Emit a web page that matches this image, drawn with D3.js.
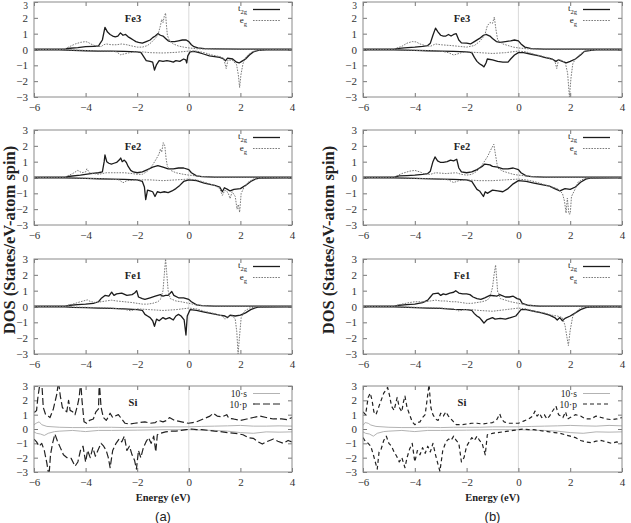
<!DOCTYPE html>
<html><head><meta charset="utf-8">
<script src="https://cdn.jsdelivr.net/npm/d3@7"></script>
<style>body{margin:0;background:#fff}svg{display:block}</style>
</head><body><svg id="c" width="631" height="523"></svg>
<script>
// ---------- data ----------
const xTicks=[-6,-4,-2,0,2,4];
const yTicks=[-3,-2,-1,0,1,2,3];
const xDomain=[-6,4];
const yDomain=[-3,3];
const columnLabels=["(a)","(b)"];
const xAxisTitle="Energy (eV)";
const yAxisTitle="DOS (States/eV-atom spin)";

// Fe3 (a)
const fe3a_t2gUp=[[-6,0.02],[-5,0.02],[-4.8,0.04],[-4.6,0.08],[-4.3,0.12],[-4.0,0.18],[-3.7,0.2],[-3.5,0.22],[-3.45,0.35],[-3.35,0.6],[-3.25,1.4],[-3.15,1.1],[-3.05,0.95],[-2.95,0.85],[-2.85,0.8],[-2.75,0.85],[-2.65,1.05],[-2.55,0.9],[-2.45,0.95],[-2.35,0.8],[-2.25,0.7],[-2.15,0.6],[-2.05,0.5],[-1.95,0.45],[-1.8,0.4],[-1.65,0.5],[-1.5,0.6],[-1.4,0.75],[-1.3,0.85],[-1.2,1.0],[-1.1,0.9],[-1.0,0.85],[-0.9,0.7],[-0.8,0.55],[-0.7,0.5],[-0.55,0.5],[-0.4,0.55],[-0.25,0.6],[-0.1,0.6],[0,0.5],[0.1,0.3],[0.2,0.18],[0.35,0.1],[0.6,0.05],[1,0.04],[2,0.03],[3,0.03],[4,0.02]];
const fe3a_egUp=[[-6,0.01],[-5,0.01],[-4.8,0.05],[-4.6,0.2],[-4.4,0.35],[-4.2,0.45],[-4.0,0.5],[-3.9,0.45],[-3.8,0.35],[-3.6,0.22],[-3.4,0.18],[-3.3,0.3],[-3.2,0.35],[-3.0,0.3],[-2.8,0.3],[-2.6,0.35],[-2.4,0.3],[-2.2,0.22],[-2.0,0.15],[-1.8,0.15],[-1.6,0.25],[-1.45,0.45],[-1.3,0.7],[-1.2,0.9],[-1.1,1.5],[-1.05,1.9],[-1.0,1.7],[-0.95,2.1],[-0.9,2.3],[-0.87,1.6],[-0.83,0.9],[-0.75,0.55],[-0.6,0.35],[-0.4,0.22],[-0.2,0.15],[0,0.1],[0.3,0.05],[0.6,0.03],[4,0.01]];
const fe3a_t2gDn=[[-6,-0.02],[-5,-0.02],[-4.5,-0.05],[-4,-0.08],[-3.5,-0.1],[-3,-0.1],[-2.5,-0.12],[-2.0,-0.15],[-1.85,-0.2],[-1.75,-0.45],[-1.65,-0.7],[-1.5,-0.75],[-1.4,-0.8],[-1.33,-1.3],[-1.25,-0.95],[-1.15,-0.7],[-1.0,-0.75],[-0.85,-0.7],[-0.7,-0.75],[-0.6,-0.8],[-0.5,-0.7],[-0.35,-0.75],[-0.2,-0.6],[-0.12,-0.65],[-0.08,-0.85],[-0.04,-0.4],[0.05,-0.15],[0.2,-0.12],[0.4,-0.2],[0.6,-0.3],[0.8,-0.4],[1.0,-0.45],[1.2,-0.5],[1.35,-0.6],[1.42,-0.72],[1.5,-0.55],[1.7,-0.6],[1.85,-0.8],[1.95,-0.85],[2.05,-0.75],[2.2,-0.6],[2.35,-0.35],[2.5,-0.15],[2.7,-0.06],[3,-0.03],[4,-0.02]];
const fe3a_egDn=[[-6,-0.01],[-4.8,-0.02],[-4.2,-0.05],[-3.5,-0.08],[-3.0,-0.1],[-2.8,-0.15],[-2.65,-0.33],[-2.5,-0.28],[-2.35,-0.22],[-2.1,-0.15],[-1.8,-0.15],[-1.5,-0.2],[-1.0,-0.22],[-0.5,-0.18],[0,-0.1],[0.3,-0.1],[0.6,-0.2],[0.9,-0.35],[1.2,-0.45],[1.35,-0.55],[1.45,-1.2],[1.52,-0.65],[1.7,-0.7],[1.85,-0.95],[1.92,-1.6],[1.97,-2.4],[2.02,-1.6],[2.1,-0.9],[2.2,-0.5],[2.35,-0.25],[2.5,-0.12],[2.7,-0.05],[3,-0.02],[4,-0.01]];

// Fe3 (b)
const fe3b_t2gUp=[[-6,0.02],[-4.8,0.03],[-4.7,0.05],[-4.4,0.1],[-4.0,0.15],[-3.7,0.2],[-3.5,0.25],[-3.4,0.4],[-3.3,0.9],[-3.2,1.35],[-3.1,1.1],[-3.0,0.9],[-2.9,0.85],[-2.8,0.85],[-2.7,0.95],[-2.6,0.85],[-2.5,0.95],[-2.4,1.0],[-2.3,0.6],[-2.2,0.42],[-2.0,0.4],[-1.85,0.35],[-1.7,0.5],[-1.5,0.7],[-1.35,0.9],[-1.25,0.95],[-1.1,0.85],[-1.0,0.7],[-0.85,0.5],[-0.7,0.45],[-0.5,0.5],[-0.3,0.55],[-0.15,0.6],[0,0.55],[0.1,0.35],[0.25,0.15],[0.5,0.05],[1,0.03],[4,0.02]];
const fe3b_egUp=[[-6,0.01],[-4.8,0.03],[-4.5,0.2],[-4.3,0.4],[-4.1,0.5],[-3.95,0.48],[-3.8,0.35],[-3.6,0.25],[-3.4,0.2],[-3.2,0.35],[-3.0,0.3],[-2.6,0.25],[-2.3,0.2],[-2.0,0.15],[-1.7,0.25],[-1.5,0.5],[-1.3,0.9],[-1.2,1.5],[-1.1,1.7],[-1.0,1.65],[-0.93,2.05],[-0.87,1.3],[-0.8,0.6],[-0.6,0.35],[-0.4,0.25],[-0.2,0.15],[0,0.1],[0.3,0.05],[0.6,0.03],[4,0.01]];
const fe3b_t2gDn=[[-6,-0.02],[-4.8,-0.02],[-4,-0.05],[-3.5,-0.08],[-3,-0.1],[-2.5,-0.12],[-2,-0.15],[-1.8,-0.2],[-1.7,-0.5],[-1.6,-0.75],[-1.5,-0.9],[-1.4,-1.0],[-1.33,-1.1],[-1.25,-0.85],[-1.2,-0.6],[-1.0,-0.65],[-0.8,-0.75],[-0.6,-0.8],[-0.4,-0.8],[-0.3,-0.6],[-0.15,-0.35],[0,-0.2],[0.2,-0.2],[0.5,-0.3],[0.8,-0.4],[1.0,-0.5],[1.3,-0.6],[1.45,-0.75],[1.55,-0.65],[1.7,-0.75],[1.85,-0.85],[2.0,-0.75],[2.2,-0.6],[2.4,-0.35],[2.55,-0.12],[2.8,-0.05],[3,-0.03],[4,-0.02]];
const fe3b_egDn=[[-6,-0.01],[-4.8,-0.02],[-4,-0.05],[-3,-0.1],[-2.7,-0.2],[-2.5,-0.35],[-2.35,-0.28],[-2.2,-0.2],[-2,-0.15],[-1.5,-0.2],[-1,-0.25],[-0.5,-0.2],[0,-0.1],[0.3,-0.15],[0.6,-0.3],[1.0,-0.45],[1.3,-0.6],[1.42,-0.8],[1.48,-1.2],[1.55,-0.65],[1.7,-0.7],[1.82,-0.9],[1.9,-1.5],[1.97,-3.0],[2.03,-1.8],[2.1,-0.9],[2.2,-0.6],[2.35,-0.35],[2.5,-0.15],[2.7,-0.05],[3,-0.02],[4,-0.01]];

// Fe2 (a)
const fe2a_t2gUp=[[-6,0.02],[-4.8,0.03],[-4.6,0.08],[-4.2,0.15],[-3.8,0.25],[-3.5,0.3],[-3.35,0.35],[-3.28,1.0],[-3.25,1.42],[-3.18,1.0],[-3.1,0.9],[-3.0,0.85],[-2.9,0.9],[-2.8,0.95],[-2.7,1.1],[-2.64,1.23],[-2.58,1.0],[-2.5,1.1],[-2.42,0.95],[-2.35,0.7],[-2.25,0.45],[-2.15,0.35],[-2.0,0.3],[-1.8,0.35],[-1.6,0.5],[-1.4,0.65],[-1.2,0.75],[-1.0,0.65],[-0.8,0.55],[-0.6,0.55],[-0.4,0.6],[-0.2,0.6],[0,0.5],[0.1,0.3],[0.3,0.1],[0.5,0.05],[1,0.03],[4,0.02]];
const fe2a_egUp=[[-6,0.01],[-4.8,0.03],[-4.5,0.25],[-4.3,0.45],[-4.15,0.3],[-4.0,0.35],[-3.95,0.55],[-3.85,0.3],[-3.5,0.2],[-3.2,0.3],[-2.8,0.3],[-2.5,0.3],[-2.2,0.25],[-2.0,0.2],[-1.8,0.2],[-1.6,0.4],[-1.4,0.8],[-1.25,1.2],[-1.15,1.5],[-1.1,1.8],[-1.05,1.6],[-0.99,2.2],[-0.93,2.0],[-0.88,1.2],[-0.83,0.7],[-0.7,0.45],[-0.5,0.3],[-0.2,0.2],[0,0.15],[0.3,0.1],[0.6,0.05],[1,0.02],[4,0.01]];
const fe2a_t2gDn=[[-6,-0.02],[-4.8,-0.02],[-4,-0.05],[-3.5,-0.08],[-3,-0.1],[-2.5,-0.12],[-2,-0.15],[-1.8,-0.25],[-1.72,-0.6],[-1.67,-1.4],[-1.6,-0.8],[-1.5,-0.85],[-1.4,-0.9],[-1.31,-1.2],[-1.22,-0.9],[-1.1,-0.95],[-0.95,-0.9],[-0.8,-0.95],[-0.65,-0.85],[-0.5,-0.7],[-0.35,-0.5],[-0.2,-0.25],[0,-0.15],[0.3,-0.2],[0.6,-0.35],[1.0,-0.5],[1.2,-0.6],[1.3,-0.9],[1.38,-0.65],[1.5,-0.75],[1.6,-0.85],[1.75,-0.75],[2.0,-0.7],[2.2,-0.5],[2.4,-0.25],[2.6,-0.08],[2.8,-0.03],[4,-0.02]];
const fe2a_egDn=[[-6,-0.01],[-4.8,-0.02],[-4,-0.05],[-3,-0.1],[-2.7,-0.15],[-2.55,-0.33],[-2.4,-0.2],[-2,-0.15],[-1.5,-0.15],[-1,-0.2],[-0.5,-0.15],[0,-0.1],[0.3,-0.15],[0.6,-0.3],[1.0,-0.5],[1.2,-0.7],[1.3,-1.13],[1.4,-0.8],[1.52,-0.95],[1.6,-1.33],[1.68,-0.9],[1.8,-1.2],[1.87,-2.0],[1.92,-1.7],[1.97,-2.2],[2.03,-1.0],[2.15,-0.6],[2.3,-0.3],[2.5,-0.1],[2.7,-0.03],[4,-0.01]];

// Fe2 (b)
const fe2b_t2gUp=[[-6,0.02],[-4.8,0.03],[-4.6,0.1],[-4.3,0.12],[-4,0.15],[-3.7,0.2],[-3.5,0.25],[-3.4,0.4],[-3.3,1.0],[-3.22,1.3],[-3.12,1.05],[-3.0,0.95],[-2.9,0.95],[-2.75,1.0],[-2.62,1.1],[-2.5,1.05],[-2.38,1.15],[-2.3,0.6],[-2.2,0.35],[-2.0,0.3],[-1.8,0.35],[-1.6,0.5],[-1.4,0.7],[-1.3,0.85],[-1.1,0.8],[-1.0,0.7],[-0.8,0.65],[-0.6,0.55],[-0.4,0.55],[-0.2,0.6],[0,0.5],[0.1,0.3],[0.3,0.1],[0.5,0.05],[1,0.03],[4,0.02]];
const fe2b_egUp=[[-6,0.01],[-4.8,0.03],[-4.5,0.25],[-4.2,0.4],[-4.0,0.45],[-3.8,0.35],[-3.6,0.2],[-3.4,0.2],[-3.2,0.3],[-2.8,0.25],[-2.4,0.3],[-2.2,0.2],[-2,0.15],[-1.8,0.2],[-1.6,0.4],[-1.4,0.8],[-1.2,1.3],[-1.05,1.8],[-0.95,2.1],[-0.87,1.3],[-0.8,0.6],[-0.6,0.4],[-0.4,0.3],[-0.2,0.2],[0,0.15],[0.3,0.1],[0.6,0.05],[1,0.02],[4,0.01]];
const fe2b_t2gDn=[[-6,-0.02],[-4.8,-0.02],[-4,-0.05],[-3,-0.1],[-2.5,-0.12],[-2,-0.15],[-1.8,-0.25],[-1.7,-0.5],[-1.6,-0.75],[-1.5,-0.85],[-1.35,-1.2],[-1.28,-0.9],[-1.2,-1.0],[-1.0,-0.8],[-0.8,-0.85],[-0.6,-0.9],[-0.4,-0.7],[-0.2,-0.4],[0,-0.2],[0.3,-0.25],[0.6,-0.35],[0.9,-0.45],[1.2,-0.55],[1.4,-0.7],[1.6,-0.85],[1.8,-0.7],[2.0,-0.75],[2.2,-0.6],[2.4,-0.3],[2.6,-0.1],[2.8,-0.03],[4,-0.02]];
const fe2b_egDn=[[-6,-0.01],[-4.8,-0.02],[-4,-0.05],[-3,-0.1],[-2.7,-0.15],[-2.5,-0.32],[-2.3,-0.2],[-2,-0.15],[-1.5,-0.2],[-1,-0.2],[-0.5,-0.15],[0,-0.1],[0.3,-0.15],[0.6,-0.25],[1.0,-0.45],[1.3,-0.6],[1.5,-0.7],[1.7,-1.0],[1.78,-1.5],[1.84,-2.25],[1.89,-1.3],[1.95,-2.3],[2.0,-2.3],[2.05,-1.2],[2.2,-0.7],[2.3,-0.3],[2.5,-0.1],[2.7,-0.03],[4,-0.01]];

// Fe1 (a)
const fe1a_t2gUp=[[-6,0.02],[-4.8,0.03],[-4.6,0.08],[-4.3,0.12],[-4,0.15],[-3.7,0.2],[-3.5,0.3],[-3.4,0.5],[-3.25,0.7],[-3.1,0.65],[-2.99,0.91],[-2.9,0.7],[-2.8,0.8],[-2.6,0.85],[-2.4,0.7],[-2.2,0.75],[-2.1,0.85],[-2.02,1.0],[-1.95,0.6],[-1.8,0.5],[-1.7,0.45],[-1.5,0.55],[-1.3,0.65],[-1.1,0.75],[-1.0,0.65],[-0.9,0.7],[-0.8,0.7],[-0.66,0.95],[-0.58,0.7],[-0.4,0.55],[-0.2,0.55],[0,0.45],[0.1,0.3],[0.3,0.1],[0.5,0.05],[1,0.03],[4,0.02]];
const fe1a_egUp=[[-6,0.01],[-4.8,0.03],[-4.5,0.15],[-4.2,0.3],[-3.93,0.42],[-3.8,0.3],[-3.6,0.25],[-3.4,0.3],[-3.2,0.35],[-3.0,0.4],[-2.8,0.35],[-2.5,0.3],[-2.2,0.25],[-2.0,0.2],[-1.8,0.15],[-1.6,0.15],[-1.4,0.2],[-1.2,0.3],[-1.1,0.45],[-1.0,1.0],[-0.95,2.0],[-0.9,3.0],[-0.86,2.2],[-0.8,1.0],[-0.72,0.5],[-0.5,0.35],[-0.3,0.3],[0,0.2],[0.3,0.1],[0.6,0.05],[1,0.02],[4,0.01]];
const fe1a_t2gDn=[[-6,-0.02],[-4.8,-0.02],[-4.5,-0.05],[-4,-0.07],[-3.5,-0.1],[-3,-0.12],[-2.5,-0.15],[-2,-0.2],[-1.8,-0.25],[-1.7,-0.5],[-1.6,-0.6],[-1.5,-0.7],[-1.4,-0.9],[-1.33,-1.25],[-1.25,-0.8],[-1.15,-0.9],[-1.0,-0.7],[-0.9,-0.8],[-0.75,-0.7],[-0.6,-0.85],[-0.5,-0.6],[-0.4,-0.5],[-0.3,-0.6],[-0.18,-0.85],[-0.11,-1.8],[-0.06,-0.6],[0.05,-0.2],[0.3,-0.25],[0.6,-0.35],[0.9,-0.45],[1.2,-0.55],[1.4,-0.6],[1.5,-0.7],[1.6,-0.55],[1.8,-0.6],[2.0,-0.55],[2.2,-0.4],[2.4,-0.2],[2.6,-0.07],[2.8,-0.03],[4,-0.02]];
const fe1a_egDn=[[-6,-0.01],[-4.8,-0.02],[-4,-0.05],[-3,-0.1],[-2.5,-0.18],[-2.25,-0.27],[-2.0,-0.15],[-1.5,-0.2],[-1.0,-0.25],[-0.5,-0.2],[0,-0.1],[0.3,-0.15],[0.6,-0.3],[1.0,-0.45],[1.3,-0.6],[1.4,-0.8],[1.5,-0.65],[1.7,-0.6],[1.8,-0.8],[1.86,-1.6],[1.91,-3.0],[1.96,-2.0],[2.03,-0.7],[2.15,-0.3],[2.35,-0.1],[2.6,-0.03],[4,-0.01]];

// Fe1 (b)
const fe1b_t2gUp=[[-6,0.02],[-4.8,0.03],[-4.6,0.08],[-4.3,0.12],[-4,0.15],[-3.7,0.25],[-3.5,0.4],[-3.4,0.6],[-3.3,0.8],[-3.1,0.85],[-3.0,0.7],[-2.9,0.8],[-2.8,0.75],[-2.65,0.85],[-2.5,0.9],[-2.42,1.0],[-2.3,0.85],[-2.15,0.8],[-2.0,0.8],[-1.87,0.75],[-1.75,0.6],[-1.6,0.5],[-1.45,0.45],[-1.3,0.55],[-1.1,0.7],[-0.95,0.68],[-0.84,0.65],[-0.72,0.75],[-0.65,0.7],[-0.5,0.6],[-0.35,0.6],[-0.2,0.65],[-0.05,0.5],[0.06,0.45],[0.15,0.2],[0.35,0.08],[0.8,0.03],[4,0.02]];
const fe1b_egUp=[[-6,0.01],[-4.8,0.03],[-4.5,0.15],[-4.2,0.25],[-4.0,0.3],[-3.6,0.3],[-3.4,0.35],[-3.2,0.4],[-3.0,0.35],[-2.8,0.35],[-2.6,0.3],[-2.4,0.3],[-2.2,0.25],[-2.0,0.2],[-1.8,0.2],[-1.6,0.25],[-1.4,0.3],[-1.2,0.4],[-1.1,0.6],[-1.0,1.2],[-0.94,2.0],[-0.88,2.62],[-0.84,1.8],[-0.8,0.9],[-0.76,0.85],[-0.7,0.5],[-0.5,0.4],[-0.3,0.3],[0,0.2],[0.3,0.1],[0.6,0.05],[1,0.02],[4,0.01]];
const fe1b_t2gDn=[[-6,-0.02],[-4.8,-0.02],[-4,-0.07],[-3.5,-0.1],[-3,-0.12],[-2.5,-0.18],[-2,-0.2],[-1.8,-0.25],[-1.7,-0.45],[-1.6,-0.6],[-1.5,-0.7],[-1.4,-0.9],[-1.33,-1.05],[-1.22,-0.85],[-1.0,-0.7],[-0.9,-0.8],[-0.7,-0.75],[-0.5,-0.8],[-0.3,-0.7],[-0.1,-0.6],[0,-0.4],[0.1,-0.2],[0.3,-0.2],[0.6,-0.3],[0.9,-0.4],[1.2,-0.55],[1.4,-0.7],[1.5,-0.85],[1.6,-0.7],[1.7,-0.9],[1.8,-0.75],[2.0,-0.6],[2.2,-0.4],[2.4,-0.2],[2.6,-0.07],[2.8,-0.03],[4,-0.02]];
const fe1b_egDn=[[-6,-0.01],[-4.8,-0.02],[-4,-0.05],[-3,-0.1],[-2.5,-0.15],[-2.3,-0.28],[-2.1,-0.2],[-1.8,-0.2],[-1.5,-0.25],[-1.0,-0.3],[-0.5,-0.2],[0,-0.1],[0.3,-0.15],[0.6,-0.3],[1.0,-0.4],[1.3,-0.55],[1.5,-0.6],[1.7,-0.7],[1.8,-1.2],[1.87,-1.9],[1.93,-2.47],[2.0,-1.5],[2.1,-0.6],[2.25,-0.3],[2.4,-0.1],[2.6,-0.03],[4,-0.01]];

// Si (a)
const sia_pUp=[[-6,1.17],[-5.95,1.2],[-5.9,1.3],[-5.85,2.2],[-5.76,3.3],[-5.7,3.3],[-5.64,1.5],[-5.55,1.0],[-5.45,0.9],[-5.38,0.8],[-5.25,1.4],[-5.12,2.4],[-5.05,3.3],[-4.98,2.3],[-4.9,1.5],[-4.8,1.3],[-4.73,1.2],[-4.66,2.0],[-4.6,1.3],[-4.5,1.2],[-4.41,1.0],[-4.32,1.6],[-4.25,2.2],[-4.19,3.3],[-4.14,2.0],[-4.06,0.5],[-3.96,0.4],[-3.85,0.6],[-3.7,0.7],[-3.6,1.2],[-3.5,1.4],[-3.47,3.3],[-3.4,1.5],[-3.31,0.8],[-3.2,0.6],[-3.1,0.9],[-3.05,1.1],[-2.95,0.8],[-2.86,0.9],[-2.73,1.0],[-2.6,0.7],[-2.47,0.4],[-2.3,0.35],[-2.1,0.4],[-1.9,0.45],[-1.7,0.5],[-1.5,0.4],[-1.3,0.45],[-1.18,0.6],[-1.0,0.5],[-0.85,0.6],[-0.75,0.8],[-0.55,0.6],[-0.28,0.5],[-0.02,0.4],[0.15,0.45],[0.3,0.5],[0.56,0.7],[0.82,0.9],[0.95,1.1],[1.1,0.9],[1.3,0.85],[1.47,1.0],[1.55,0.75],[1.73,0.7],[2.0,0.6],[2.25,0.7],[2.5,0.8],[2.76,0.9],[3.0,0.8],[3.28,0.7],[3.6,0.7],[3.8,0.65],[4,0.8]];
const sia_pDn=[[-6,-0.7],[-5.9,-0.9],[-5.8,-1.2],[-5.7,-1.0],[-5.6,-1.5],[-5.5,-2.4],[-5.42,-3.3],[-5.36,-1.8],[-5.28,-1.0],[-5.19,-0.35],[-5.1,-0.8],[-4.98,-1.3],[-4.86,-1.8],[-4.72,-2.0],[-4.56,-2.05],[-4.41,-2.6],[-4.3,-2.3],[-4.2,-1.5],[-4.1,-1.2],[-4.0,-2.3],[-3.92,-1.5],[-3.82,-2.0],[-3.72,-1.3],[-3.62,-1.9],[-3.5,-1.4],[-3.4,-1.0],[-3.3,-1.2],[-3.2,-1.5],[-3.12,-2.0],[-3.05,-2.7],[-2.95,-1.5],[-2.82,-1.0],[-2.7,-0.7],[-2.6,-0.9],[-2.5,-0.5],[-2.4,-1.5],[-2.3,-1.2],[-2.2,-1.8],[-2.1,-2.2],[-2.03,-2.8],[-1.95,-1.5],[-1.86,-2.0],[-1.76,-1.3],[-1.66,-0.9],[-1.56,-0.6],[-1.46,-1.0],[-1.36,-0.5],[-1.28,-1.6],[-1.22,-0.4],[-1.1,-0.3],[-0.9,-0.2],[-0.7,-0.15],[-0.5,-0.15],[-0.3,-0.1],[-0.1,-0.05],[0.1,0.0],[0.3,-0.05],[0.5,-0.05],[0.8,-0.1],[1.0,-0.15],[1.3,-0.2],[1.5,-0.25],[1.8,-0.3],[2.1,-0.4],[2.3,-0.6],[2.5,-0.65],[2.7,-0.9],[2.85,-1.05],[3.0,-0.9],[3.28,-0.7],[3.45,-0.85],[3.66,-1.0],[3.85,-0.8],[4,-0.9]];
const sia_sUp=[[-6,0.3],[-5.92,0.4],[-5.8,0.5],[-5.7,0.3],[-5.5,0.18],[-5.0,0.12],[-4.5,0.1],[-4.0,0.1],[-3.5,0.12],[-3.0,0.12],[-2.5,0.1],[-2.0,0.12],[-1.5,0.12],[-1.0,0.15],[-0.5,0.15],[0,0.15],[0.5,0.18],[1.0,0.2],[1.5,0.22],[2.0,0.25],[2.5,0.2],[3.0,0.2],[3.5,0.22],[4,0.2]];
const sia_sDn=[[-6,-0.2],[-5.9,-0.3],[-5.75,-0.35],[-5.6,-0.45],[-5.45,-0.3],[-5.2,-0.18],[-5.0,-0.15],[-4.5,-0.1],[-4.2,-0.15],[-4.0,-0.18],[-3.5,-0.1],[-3.0,-0.1],[-2.0,-0.08],[-1.0,-0.05],[0,-0.05],[0.5,-0.08],[1.0,-0.1],[1.5,-0.15],[2.0,-0.25],[2.5,-0.3],[3.0,-0.2],[3.5,-0.22],[4,-0.2]];

// Si (b)
const sib_pUp=[[-6,1.2],[-5.9,1.0],[-5.8,2.2],[-5.72,2.5],[-5.65,2.0],[-5.58,1.2],[-5.5,1.0],[-5.4,1.5],[-5.3,2.0],[-5.2,2.5],[-5.05,2.9],[-4.97,2.3],[-4.9,1.6],[-4.8,1.3],[-4.68,2.2],[-4.6,1.5],[-4.5,1.2],[-4.45,1.8],[-4.38,2.3],[-4.3,1.5],[-4.2,1.0],[-4.1,0.5],[-4.0,0.3],[-3.9,0.45],[-3.8,0.5],[-3.7,0.8],[-3.6,1.0],[-3.45,3.1],[-3.38,1.5],[-3.3,1.0],[-3.2,0.7],[-3.1,0.6],[-3.0,1.1],[-2.9,0.9],[-2.8,1.2],[-2.7,0.9],[-2.6,0.7],[-2.5,0.5],[-2.4,0.3],[-2.2,0.3],[-2.0,0.35],[-1.8,0.4],[-1.6,0.4],[-1.4,0.35],[-1.2,0.4],[-1.0,0.45],[-0.85,0.6],[-0.72,1.05],[-0.65,0.7],[-0.55,0.5],[-0.4,0.4],[-0.2,0.4],[0,0.4],[0.2,0.55],[0.4,0.7],[0.55,0.9],[0.64,1.25],[0.72,0.9],[0.82,1.1],[0.9,0.8],[1.0,1.0],[1.1,0.7],[1.2,0.9],[1.3,1.2],[1.45,1.6],[1.55,1.0],[1.65,0.9],[1.72,0.8],[1.82,1.2],[1.9,0.7],[2.0,0.8],[2.2,1.0],[2.4,0.9],[2.6,0.7],[2.8,0.7],[3.0,0.9],[3.2,0.8],[3.4,0.7],[3.6,0.65],[3.8,0.7],[4.0,0.8]];
const sib_pDn=[[-6,-0.6],[-5.9,-0.9],[-5.8,-1.0],[-5.7,-1.2],[-5.6,-1.8],[-5.45,-2.8],[-5.38,-1.6],[-5.3,-1.4],[-5.2,-0.8],[-5.1,-0.5],[-5.0,-1.0],[-4.9,-1.2],[-4.8,-1.6],[-4.7,-1.9],[-4.6,-2.3],[-4.5,-2.0],[-4.38,-2.7],[-4.3,-2.0],[-4.2,-1.4],[-4.1,-1.0],[-4.0,-2.3],[-3.9,-1.5],[-3.8,-1.8],[-3.7,-1.3],[-3.6,-1.7],[-3.5,-1.2],[-3.4,-1.6],[-3.3,-1.0],[-3.2,-1.8],[-3.1,-2.5],[-3.03,-2.95],[-2.92,-1.5],[-2.8,-0.9],[-2.7,-0.7],[-2.6,-0.8],[-2.5,-0.5],[-2.4,-0.8],[-2.3,-1.0],[-2.2,-2.3],[-2.1,-2.0],[-2.0,-1.2],[-1.9,-0.9],[-1.8,-0.6],[-1.7,-0.8],[-1.6,-0.5],[-1.5,-0.8],[-1.4,-1.0],[-1.28,-1.8],[-1.2,-0.4],[-1.0,-0.3],[-0.8,-0.25],[-0.6,-0.2],[-0.4,-0.15],[-0.2,-0.1],[0,-0.05],[0.2,0.0],[0.4,-0.05],[0.6,-0.05],[0.8,-0.1],[1.0,-0.15],[1.2,-0.2],[1.4,-0.25],[1.6,-0.3],[1.8,-0.4],[2.0,-0.5],[2.2,-0.6],[2.4,-0.8],[2.6,-0.9],[2.8,-0.95],[3.0,-0.85],[3.2,-0.8],[3.4,-0.9],[3.6,-1.0],[3.8,-0.9],[4.0,-1.0]];
const sib_sUp=[[-6,0.25],[-5.92,0.45],[-5.8,0.4],[-5.7,0.28],[-5.5,0.18],[-5.0,0.12],[-4.5,0.1],[-4.0,0.1],[-3.5,0.12],[-3.0,0.1],[-2.5,0.12],[-2.0,0.12],[-1.5,0.12],[-1.0,0.15],[-0.5,0.15],[0,0.15],[0.5,0.18],[1.0,0.2],[1.5,0.22],[2.0,0.25],[2.5,0.22],[3.0,0.2],[3.5,0.25],[4,0.22]];
const sib_sDn=[[-6,-0.2],[-5.9,-0.3],[-5.75,-0.35],[-5.6,-0.5],[-5.45,-0.3],[-5.2,-0.18],[-5.0,-0.15],[-4.5,-0.1],[-4.2,-0.15],[-4.0,-0.18],[-3.5,-0.1],[-3.0,-0.1],[-2.0,-0.08],[-1.0,-0.05],[0,-0.05],[0.5,-0.08],[1.0,-0.1],[1.5,-0.15],[2.0,-0.25],[2.5,-0.3],[3.0,-0.2],[3.5,-0.22],[4,-0.2]];

// ---------- layout & style ----------
const colX=[[34,292],[363,622]];
const rowY=[[2,97],[130,225],[259,354],[386,472]];
const styles={
  t2g:{stroke:"#1c1c1c",width:1.3,dash:null},
  eg:{stroke:"#7a7a7a",width:1,dash:"1.6,1.2"},
  s:{stroke:"#b3b3b3",width:1,dash:null},
  pA:{stroke:"#222",width:1.2,dash:"7,3"},
  pB:{stroke:"#222",width:1.2,dash:"4,3"}
};
const panels=[
 {col:0,row:0,name:"Fe3",type:"fe",curves:[[fe3a_t2gUp,"t2g"],[fe3a_t2gDn,"t2g"],[fe3a_egUp,"eg"],[fe3a_egDn,"eg"]]},
 {col:1,row:0,name:"Fe3",type:"fe",curves:[[fe3b_t2gUp,"t2g"],[fe3b_t2gDn,"t2g"],[fe3b_egUp,"eg"],[fe3b_egDn,"eg"]]},
 {col:0,row:1,name:"Fe2",type:"fe",curves:[[fe2a_t2gUp,"t2g"],[fe2a_t2gDn,"t2g"],[fe2a_egUp,"eg"],[fe2a_egDn,"eg"]]},
 {col:1,row:1,name:"Fe2",type:"fe",curves:[[fe2b_t2gUp,"t2g"],[fe2b_t2gDn,"t2g"],[fe2b_egUp,"eg"],[fe2b_egDn,"eg"]]},
 {col:0,row:2,name:"Fe1",type:"fe",curves:[[fe1a_t2gUp,"t2g"],[fe1a_t2gDn,"t2g"],[fe1a_egUp,"eg"],[fe1a_egDn,"eg"]]},
 {col:1,row:2,name:"Fe1",type:"fe",curves:[[fe1b_t2gUp,"t2g"],[fe1b_t2gDn,"t2g"],[fe1b_egUp,"eg"],[fe1b_egDn,"eg"]]},
 {col:0,row:3,name:"Si",type:"si",pStyle:"pA",curves:[[sia_sUp,"s"],[sia_sDn,"s"],[sia_pUp,"pA"],[sia_pDn,"pA"]]},
 {col:1,row:3,name:"Si",type:"si",pStyle:"pB",curves:[[sib_sUp,"s"],[sib_sDn,"s"],[sib_pUp,"pB"],[sib_pDn,"pB"]]}
];

const svg=d3.select("#c");
const serif="'Liberation Serif','Times New Roman',serif";

panels.forEach((p,i)=>{
  const [x0,x1]=colX[p.col], [y0,y1]=rowY[p.row];
  const x=d3.scaleLinear().domain(xDomain).range([x0,x1]);
  const y=d3.scaleLinear().domain(yDomain).range([y1,y0]);
  const g=svg.append("g");
  const cid="clip"+i;
  svg.append("defs").append("clipPath").attr("id",cid).append("rect")
    .attr("x",x0).attr("y",y0).attr("width",x1-x0).attr("height",y1-y0);
  g.append("line").attr("x1",x(0)).attr("x2",x(0)).attr("y1",y0).attr("y2",y1)
    .attr("stroke","#cfcfcf").attr("stroke-width",0.8);
  const fs="11px";
  const ax=(gen,tr,labels)=>{
    const a=g.append("g").attr("transform",tr).call(gen);
    a.select(".domain").remove();
    a.selectAll(".tick line").attr("stroke","#777");
    a.selectAll("text").attr("font-family",serif).attr("font-size",fs).attr("fill","#333");
    if(!labels) a.selectAll("text").remove();
    return a;
  };
  ax(d3.axisBottom(x).tickValues(xTicks).tickSizeInner(-4).tickSizeOuter(0).tickPadding(6).tickFormat(d3.format("d")),`translate(0,${y1})`,true);
  ax(d3.axisTop(x).tickValues(xTicks).tickSizeInner(-4).tickSizeOuter(0),`translate(0,${y0})`,false);
  const la=ax(d3.axisLeft(y).tickValues(yTicks).tickSizeInner(-4).tickSizeOuter(0).tickPadding(6).tickFormat(d3.format("d")),`translate(${x0},0)`,true);
  if(p.row===0){
    // top label sits at the page edge: shrink and nudge it so it stays visible
    la.selectAll(".tick").filter(d=>d===yDomain[1]).select("text")
      .attr("font-size","9.5px").attr("dy","6.6px");
  }
  ax(d3.axisRight(y).tickValues(yTicks).tickSizeInner(-4).tickSizeOuter(0),`translate(${x1},0)`,false);
  const line=d3.line().x(d=>x(d[0])).y(d=>y(d[1]));
  const cg=g.append("g").attr("clip-path",`url(#${cid})`);
  p.curves.forEach(([data,k])=>{
    const s=styles[k];
    cg.append("path").attr("d",line(data)).attr("fill","none")
      .attr("stroke",s.stroke).attr("stroke-width",s.width)
      .attr("stroke-dasharray",s.dash).attr("stroke-linejoin","round");
  });
  g.append("rect").attr("x",x0).attr("y",y0).attr("width",x1-x0).attr("height",y1-y0)
    .attr("fill","none").attr("stroke","#8a8a8a").attr("stroke-width",1);
  g.append("text").attr("x",x0+99).attr("y",y0+20).attr("text-anchor","middle")
    .attr("font-family",serif).attr("font-weight","bold").attr("font-size","10.5px").attr("fill","#222").text(p.name);
  // legend
  const lx1=x1-12, lx0=x1-39, tx=x1-45;
  const entries=p.type==="fe"
    ? [{main:"t",sub:"2g",k:"t2g",ly:7.5,ty:9,fs:"9px"},{main:"e",sub:"g",k:"eg",ly:18.5,ty:21,fs:"9px"}]
    : [{main:"10·s",sub:null,k:"s",ly:7.5,ty:11,fs:"9.5px"},{main:"10·p",sub:null,k:p.pStyle,ly:18,ty:21.8,fs:"9.5px"}];
  entries.forEach(e=>{
    const s=styles[e.k];
    g.append("line").attr("x1",lx0).attr("x2",lx1).attr("y1",y0+e.ly).attr("y2",y0+e.ly)
      .attr("stroke",s.stroke).attr("stroke-width",s.width).attr("stroke-dasharray",s.dash);
    const t=g.append("text").attr("x",tx).attr("y",y0+e.ty).attr("text-anchor","end")
      .attr("font-family",serif).attr("font-size",e.fs).attr("fill","#222");
    t.append("tspan").text(e.main);
    if(e.sub) t.append("tspan").attr("font-size","6.5px").attr("dy","2.5").text(e.sub);
  });
});

// axis titles
[0,1].forEach(c=>{
  const [x0,x1]=colX[c];
  const cx=(x0+x1)/2;
  svg.append("text").attr("x",cx).attr("y",501).attr("text-anchor","middle")
    .attr("font-family",serif).attr("font-weight","bold").attr("font-size","10.5px").attr("fill","#222").text(xAxisTitle);
  svg.append("text").attr("x",cx).attr("y",521).attr("text-anchor","middle")
    .attr("font-family","'Liberation Sans',Arial,sans-serif").attr("font-size","13px").attr("fill","#222").text(columnLabels[c]);
  const yx=c===0?15:334;
  svg.append("text").attr("transform",`translate(${yx},240) rotate(-90)`).attr("text-anchor","middle")
    .attr("font-family",serif).attr("font-weight","bold").attr("font-size","16.5px").attr("fill","#222").text(yAxisTitle);
});
</script></body></html>
